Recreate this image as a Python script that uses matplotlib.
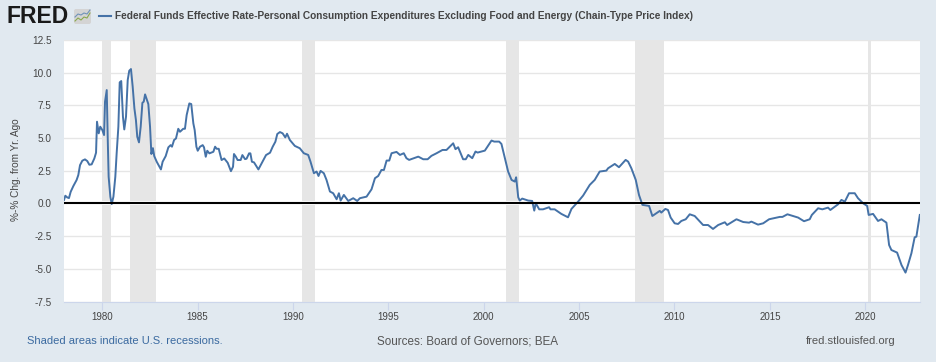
import matplotlib
matplotlib.use('Agg')
import matplotlib.pyplot as plt
from matplotlib.patches import FancyBboxPatch

plt.rcParams['font.family'] = ['Liberation Sans', 'DejaVu Sans']

years = [1978.00, 1978.07, 1978.17, 1978.26, 1978.35, 1978.49, 1978.66, 1978.75, 1978.84, 1978.96,
         1979.10, 1979.22, 1979.33, 1979.45, 1979.59, 1979.68, 1979.73, 1979.82, 1979.90, 1980.01,
         1980.10, 1980.15, 1980.24, 1980.29, 1980.34, 1980.43, 1980.50, 1980.59, 1980.69, 1980.76,
         1980.85, 1980.92, 1981.00, 1981.09, 1981.16, 1981.25, 1981.34, 1981.42, 1981.51, 1981.60,
         1981.69, 1981.77, 1981.84, 1981.93, 1982.02, 1982.11, 1982.18, 1982.25, 1982.33, 1982.42,
         1982.51, 1982.58, 1982.66, 1982.73, 1982.86, 1983.08, 1983.17, 1983.33, 1983.47, 1983.59,
         1983.66, 1983.77, 1983.87, 1983.99, 1984.08, 1984.25, 1984.34, 1984.43, 1984.57, 1984.67,
         1984.78, 1984.85, 1984.94, 1985.01, 1985.13, 1985.27, 1985.34, 1985.43, 1985.51, 1985.62,
         1985.83, 1985.92, 1986.00, 1986.11, 1986.26, 1986.40, 1986.58, 1986.75, 1986.86, 1986.91,
         1987.01, 1987.10, 1987.26, 1987.35, 1987.49, 1987.57, 1987.70, 1987.77, 1987.85, 1987.96,
         1988.19, 1988.45, 1988.59, 1988.80, 1988.94, 1989.08, 1989.18, 1989.32, 1989.46, 1989.60,
         1989.69, 1989.84, 1990.10, 1990.36, 1990.57, 1990.80, 1990.92, 1991.10, 1991.24, 1991.34,
         1991.45, 1991.62, 1991.76, 1991.94, 1992.11, 1992.29, 1992.41, 1992.50, 1992.67, 1992.90,
         1993.16, 1993.37, 1993.51, 1993.86, 1994.12, 1994.30, 1994.47, 1994.64, 1994.77, 1994.91,
         1995.05, 1995.17, 1995.43, 1995.61, 1995.81, 1995.95, 1996.09, 1996.57, 1996.83, 1997.06,
         1997.26, 1997.53, 1997.84, 1998.05, 1998.40, 1998.52, 1998.66, 1998.92, 1999.06, 1999.19,
         1999.40, 1999.57, 1999.68, 2000.06, 2000.41, 2000.55, 2000.81, 2000.93, 2001.11, 2001.28,
         2001.46, 2001.63, 2001.70, 2001.81, 2001.89, 2002.02, 2002.33, 2002.54, 2002.65, 2002.73,
         2002.91, 2003.11, 2003.43, 2003.50, 2003.72, 2004.07, 2004.42, 2004.60, 2004.95, 2005.21,
         2005.56, 2005.82, 2006.08, 2006.43, 2006.52, 2006.87, 2007.09, 2007.44, 2007.57, 2007.74,
         2007.97, 2008.14, 2008.32, 2008.67, 2008.84, 2009.05, 2009.23, 2009.31, 2009.52, 2009.66,
         2009.80, 2010.01, 2010.19, 2010.36, 2010.59, 2010.80, 2011.06, 2011.50, 2011.76, 2012.02,
         2012.29, 2012.64, 2012.76, 2013.25, 2013.60, 2013.91, 2014.03, 2014.38, 2014.65, 2014.96,
         2015.52, 2015.66, 2015.92, 2016.48, 2016.79, 2017.09, 2017.20, 2017.53, 2017.75, 2018.05,
         2018.17, 2018.58, 2018.75, 2018.93, 2019.15, 2019.45, 2019.62, 2019.89, 2020.10, 2020.18,
         2020.41, 2020.67, 2020.85, 2021.11, 2021.25, 2021.37, 2021.67, 2021.90, 2022.11, 2022.24,
         2022.42, 2022.59, 2022.68, 2022.86]

rate_gap = [0.26, 0.59, 0.46, 0.41, 0.89, 1.33, 1.79, 2.17, 2.93, 3.27,
            3.37, 3.24, 2.96, 2.99, 3.44, 3.88, 6.25, 5.36, 5.87, 5.61,
            5.23, 7.78, 8.67, 5.10, 2.04, 0.51, -0.05, 0.51, 2.04, 3.83,
            5.87, 9.26, 9.36, 6.63, 5.66, 6.63, 9.44, 10.15, 10.28, 8.93,
            7.27, 6.38, 5.10, 4.67, 5.87, 7.70, 7.78, 8.34, 7.99, 7.60,
            5.87, 3.78, 4.23, 3.62, 3.19, 2.60, 3.19, 3.62, 4.29, 4.46,
            4.34, 4.85, 4.97, 5.71, 5.48, 5.71, 5.71, 6.76, 7.65, 7.60,
            6.12, 5.61, 4.34, 4.03, 4.34, 4.46, 4.29, 3.57, 4.03, 3.83,
            3.95, 4.34, 4.18, 4.18, 3.32, 3.44, 3.11, 2.47, 2.81, 3.78,
            3.57, 3.32, 3.32, 3.70, 3.39, 3.42, 3.83, 3.83, 3.19, 3.14,
            2.60, 3.32, 3.70, 3.88, 4.34, 4.72, 5.31, 5.46, 5.36, 5.05,
            5.33, 4.85, 4.40, 4.22, 3.84, 3.71, 3.20, 2.31, 2.44, 2.10,
            2.49, 2.31, 1.80, 0.91, 0.78, 0.32, 0.78, 0.22, 0.65, 0.19,
            0.40, 0.19, 0.40, 0.52, 1.08, 1.93, 2.10, 2.56, 2.56, 3.28,
            3.28, 3.84, 3.94, 3.71, 3.84, 3.46, 3.33, 3.58, 3.38, 3.38,
            3.64, 3.84, 4.09, 4.09, 4.60, 4.15, 4.30, 3.38, 3.38, 3.71,
            3.46, 3.97, 3.89, 4.04, 4.81, 4.73, 4.73, 4.55, 3.46, 2.44,
            1.80, 1.67, 2.00, 0.47, 0.22, 0.37, 0.22, 0.19, -0.55, 0.01,
            -0.45, -0.45, -0.29, -0.45, -0.45, -0.80, -1.06, -0.42, 0.14, 0.60,
            1.42, 1.80, 2.44, 2.51, 2.69, 3.02, 2.77, 3.33, 3.20, 2.69,
            1.80, 0.65, -0.11, -0.19, -0.96, -0.75, -0.57, -0.70, -0.42, -0.50,
            -1.08, -1.52, -1.57, -1.34, -1.21, -0.83, -0.96, -1.65, -1.65, -1.95,
            -1.65, -1.44, -1.65, -1.21, -1.42, -1.47, -1.39, -1.62, -1.52, -1.21,
            -1.03, -1.03, -0.83, -1.08, -1.36, -1.21, -0.88, -0.37, -0.45, -0.32,
            -0.50, -0.06, 0.27, 0.14, 0.78, 0.78, 0.40, 0.01, -0.19, -0.88,
            -0.80, -1.34, -1.21, -1.47, -3.18, -3.56, -3.76, -4.71, -5.29, -4.71,
            -3.81, -2.59, -2.54, -0.88]

recession_start = [1980.00, 1981.47, 1990.48, 2001.17, 2007.92, 2020.12]
recession_end = [1980.44, 1982.80, 1991.15, 2001.83, 2009.45, 2020.30]

y_ticks = [-7.5, -5.0, -2.5, 0.0, 2.5, 5.0, 7.5, 10.0, 12.5]
x_ticks = [1980, 1985, 1990, 1995, 2000, 2005, 2010, 2015, 2020]

W, H = 936, 362
bg = '#e1e9f0'
line_color = '#4572a7'

fig = plt.figure(figsize=(W / 100, H / 100), dpi=100, facecolor=bg)
ax = fig.add_axes([64 / W, 1 - 301.5 / H, (920 - 64) / W, (301.5 - 40) / H])
ax.set_facecolor('white')

for s, e in zip(recession_start, recession_end):
    ax.axvspan(s, e, color='#e6e6e6', lw=0, zorder=1)

ax.set_yticks(y_ticks)
ax.set_yticklabels([f'{v:.1f}' for v in y_ticks])
ax.set_xticks(x_ticks)
ax.grid(axis='y', color='#e6e6e6', lw=1)
ax.set_axisbelow(True)
ax.axhline(0, color='white', lw=2.9, zorder=2)
ax.axhline(0, color='black', lw=1.5, zorder=4)
ax.plot(years, rate_gap, color=line_color, lw=1.4, zorder=3, solid_joinstyle='round')

ax.set_xlim(1978.0, 2022.87)
ax.set_ylim(-7.5, 12.5)
for side in ['top', 'left', 'right']:
    ax.spines[side].set_visible(False)
ax.spines['bottom'].set_color('#ccd6eb')
ax.tick_params(axis='y', length=0, pad=9, labelsize=7.2, labelcolor='#444444')
ax.tick_params(axis='x', length=6, width=0.8, color='#ccd6eb', pad=1.5, labelsize=7, labelcolor='#444444')

# header and footer sit in pixel coordinates
def px_text(x, y, s, **kw):
    fig.text(x / W, 1 - y / H, s, va='center', **kw)

px_text(7, 16.5, 'FRED', fontsize=16.5, fontweight='bold', color='#1a1a1a')
px_text(115, 16, 'Federal Funds Effective Rate-Personal Consumption Expenditures Excluding Food and Energy (Chain-Type Price Index)',
        fontsize=7.25, fontweight='bold', color='#444444')
px_text(16, 170, '%-% Chg. from Yr. Ago', fontsize=7.2, color='#444444', rotation=90, ha='center')
px_text(27, 341, 'Shaded areas indicate U.S. recessions.', fontsize=8, color='#3b6aa0')
px_text(377, 341, 'Sources: Board of Governors; BEA', fontsize=8.4, color='#555555')
px_text(806, 341, 'fred.stlouisfed.org', fontsize=8.1, color='#555555')

overlay = fig.add_axes([0, 0, 1, 1], facecolor='none')
overlay.set_xlim(0, W)
overlay.set_ylim(H, 0)
overlay.axis('off')
overlay.plot([99, 111], [16, 16], color=line_color, lw=1.5)
overlay.add_patch(FancyBboxPatch((74, 9), 17, 15, boxstyle='round,pad=0,rounding_size=2',
                                 fc='#d4d4d4', ec='none'))
overlay.plot([75, 78, 81, 84, 87, 90], [17, 14, 15, 13, 14, 10], color='#6f93b8', lw=0.8)
overlay.plot([75, 78, 81, 84, 87, 90], [21, 18, 20, 17, 18, 13], color='#8aa84f', lw=0.8)

fig.savefig('out.png', dpi=100, facecolor=bg)
